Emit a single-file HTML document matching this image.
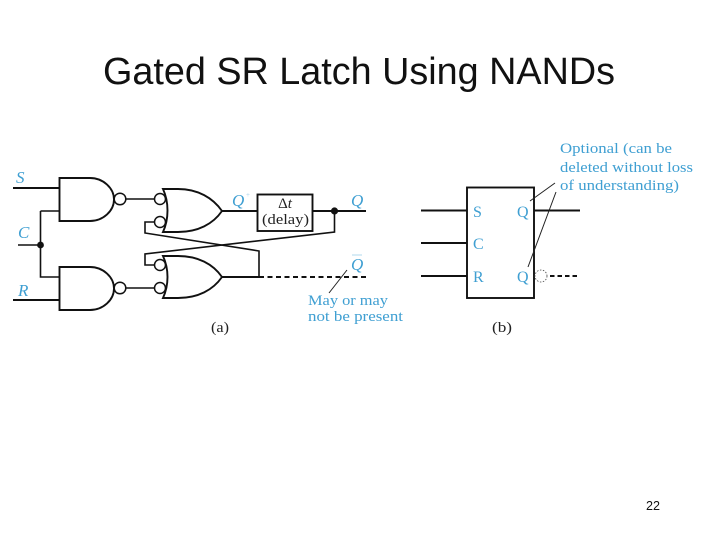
<!DOCTYPE html>
<html><head><meta charset="utf-8"><style>
html,body{margin:0;padding:0;background:#fff;width:720px;height:540px;overflow:hidden}
svg{display:block}
text{font-family:"Liberation Serif",serif;fill:#3f9fd2}
.w{fill:none;stroke:#111;stroke-width:1.9}
.t{fill:none;stroke:#111;stroke-width:1.6}
.b{fill:#fff;stroke:#111;stroke-width:1.5}
.l{fill:none;stroke:#222;stroke-width:1}
</style></head><body>
<svg width="720" height="540" viewBox="0 0 720 540" xmlns="http://www.w3.org/2000/svg">
<text x="103" y="84" font-size="38" textLength="512" lengthAdjust="spacingAndGlyphs" style="font-family:'Liberation Sans',sans-serif;fill:#111">Gated SR Latch Using NANDs</text>
<text x="646" y="510" font-size="13" textLength="14" lengthAdjust="spacingAndGlyphs" style="font-family:'Liberation Sans',sans-serif;fill:#111">22</text>

<!-- wires -->
<path class="w" d="M13 188H59M13 300H59"/>
<path class="t" d="M40.500 211H59M40.500 211V277H59"/>
<path class="t" d="M18 245H40M126 199H155M126 288H155"/>
<circle cx="40.500" cy="245" r="3.400" fill="#111"/>

<!-- NAND gates -->
<path class="w" d="M59.500 178H90C103 178 114 188 114 199.500C114 211 103 221 90 221H59.500Z"/>
<path class="w" d="M59.500 267H90C103 267 114 277 114 288.500C114 300 103 310 90 310H59.500Z"/>
<circle class="b" cx="120" cy="199" r="5.800"/>
<circle class="b" cx="120" cy="288" r="5.800"/>

<!-- feedback -->
<path class="t" d="M155 222H145V233L259 251V277"/>
<path class="t" d="M155 265H145V254L334.500 232V211"/>

<!-- OR gates -->
<path class="w" d="M163 189H178C198 189 213 198 222 211C213 224 198 232 178 232H163C169 219 169 202 163 189Z" fill="#fff"/>
<path class="w" d="M163 256H178C198 256 213 264 222 277C213 290 198 298 178 298H163C169 285 169 269 163 256Z" fill="#fff"/>
<circle class="b" cx="160" cy="199" r="5.500"/>
<circle class="b" cx="160" cy="222" r="5.500"/>
<circle class="b" cx="160" cy="265" r="5.500"/>
<circle class="b" cx="160" cy="288" r="5.500"/>

<!-- outputs -->
<path class="w" d="M222 211H257M313 211H366M222 277H259"/>
<path class="w" d="M259 277H366" stroke-dasharray="5 3.500"/>
<rect x="257.500" y="194.500" width="55" height="36.500" fill="#fff" stroke="#111" stroke-width="1.900"/>
<circle cx="334.500" cy="211" r="3.600" fill="#111"/>
<path class="l" d="M347 270L329 293"/>

<!-- labels a -->
<g font-style="italic" font-size="17">
<text x="16" y="183">S</text><text x="18" y="238">C</text><text x="18" y="296">R</text>
<text x="232" y="206">Q</text><text x="351" y="206">Q</text><text x="351" y="270">Q</text>
</g>
<text x="246" y="197" font-size="7" fill-opacity=".5">+</text>
<path d="M352 255H362" stroke="#9fcfe8" stroke-width=".8"/>
<text x="285" y="208" font-size="15" text-anchor="middle" style="fill:#222">Δ<tspan font-style="italic">t</tspan></text>
<text x="262" y="224" font-size="15" textLength="47" lengthAdjust="spacingAndGlyphs" style="fill:#222">(delay)</text>
<text x="308" y="305" font-size="15" textLength="80" lengthAdjust="spacingAndGlyphs">May or may</text>
<text x="308" y="321" font-size="15" textLength="95" lengthAdjust="spacingAndGlyphs">not be present</text>
<text x="211" y="332" font-size="15" textLength="18" lengthAdjust="spacingAndGlyphs" style="fill:#222">(a)</text>

<!-- part b -->
<rect x="467" y="187.500" width="67" height="110.500" fill="none" stroke="#111" stroke-width="1.900"/>
<path class="w" d="M421 210.500H467M421 243H467M421 276H467M534 210.500H580"/>
<circle cx="541" cy="276" r="6" fill="none" stroke="#444" stroke-width=".8" stroke-dasharray="1.500 1.500"/>
<path class="w" d="M550 276H577" stroke-dasharray="4.500 3"/>
<path class="l" d="M530 201L555 183M528 267L556 192"/>
<g font-size="16">
<text x="473" y="217">S</text><text x="473" y="249">C</text><text x="473" y="282">R</text>
<text x="517" y="217">Q</text><text x="517" y="282">Q</text>
</g>
<g font-size="15">
<text x="560" y="153" textLength="112" lengthAdjust="spacingAndGlyphs">Optional (can be</text>
<text x="560" y="172" textLength="133" lengthAdjust="spacingAndGlyphs">deleted without loss</text>
<text x="560" y="190" textLength="119" lengthAdjust="spacingAndGlyphs">of understanding)</text>
</g>
<text x="492" y="332" font-size="15" textLength="20" lengthAdjust="spacingAndGlyphs" style="fill:#222">(b)</text>
</svg>
</body></html>
